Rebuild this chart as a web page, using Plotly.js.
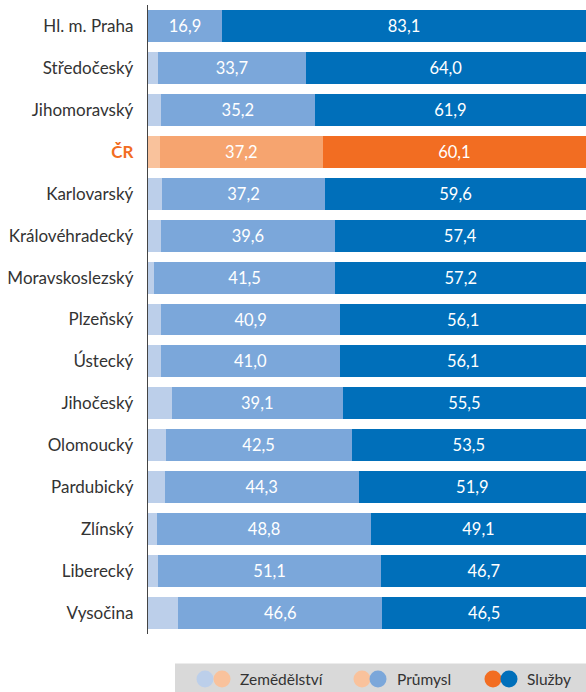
<!DOCTYPE html>
<html><head><meta charset="utf-8">
<script src="https://cdn.plot.ly/plotly-3.0.1.min.js"></script>
<style>html,body{margin:0;padding:0;background:#fff}#chart{width:586px;height:692px}</style>
</head><body><div id="chart"></div>
<script>
const regions = ["Hl. m. Praha","Středočeský","Jihomoravský","ČR","Karlovarský","Královéhradecký","Moravskoslezský","Plzeňský","Ústecký","Jihočeský","Olomoucký","Pardubický","Zlínský","Liberecký","Vysočina"];
const zemedelstvi = [0.0, 2.3, 2.9, 2.7, 3.2, 3.0, 1.3, 3.0, 2.9, 5.4, 4.0, 3.8, 2.1, 2.2, 6.9];
const prumysl = [16.9, 33.7, 35.2, 37.2, 37.2, 39.6, 41.5, 40.9, 41.0, 39.1, 42.5, 44.3, 48.8, 51.1, 46.6];
const sluzby = [83.1, 64.0, 61.9, 60.1, 59.6, 57.4, 57.2, 56.1, 56.1, 55.5, 53.5, 51.9, 49.1, 46.7, 46.5];
const legendNames = ["Zemědělství","Průmysl","Služby"];

const blue = ["#bccfea","#7ba7da","#006fba"];
const orange = ["#f9c29c","#f6a46f","#f26d22"];
const crIdx = regions.indexOf("ČR");
const colorsFor = k => regions.map((r,i)=> i===crIdx ? orange[k] : blue[k]);
const fmt = v => v.toFixed(1).replace('.', ',');

const series = [zemedelstvi, prumysl, sluzby];
const traces = series.map((vals,k)=>({
  type:'bar', orientation:'h', y:regions, x:vals, name:legendNames[k],
  marker:{color:colorsFor(k), line:{width:0}},
  text: k===0 ? vals.map(()=> '') : vals.map(fmt),
  textposition: k===0 ? 'none' : 'inside', insidetextanchor:'middle',
  textfont:{color:'#ffffff', size:16.5, family:'Lato, sans-serif'},
  hoverinfo:'skip', showlegend:false
}));

const ticktext = regions.map((r,i)=> i===crIdx ? '<b><span style="color:#f26d22">ČR</span></b>' : r);

const shapes = [{type:'rect', xref:'paper', yref:'paper', x0:(175-148)/438, x1:1, y0:-0.095, y1:-0.047, fillcolor:'#d9d9d9', line:{width:0}, layer:'below'}];
const legItems = [
  {c:[blue[0],orange[0]], x:[205,222], t:238},
  {c:[orange[0],blue[1]], x:[362,378], t:395},
  {c:[orange[2],blue[2]], x:[493,509], t:525}
];
const annotations = [];
const pxX = px => (px-148)/438;
const plotTop=5, plotBot=634;
const pxY = py => (plotBot-py)/(plotBot-plotTop);
legItems.forEach((it,k)=>{
  it.x.forEach((cx,j)=>{
    shapes.push({type:'circle', xref:'paper', yref:'paper', x0:pxX(cx-8.5), x1:pxX(cx+8.5), y0:pxY(679+8.5), y1:pxY(679-8.5), fillcolor:it.c[j], line:{width:0}});
  });
  annotations.push({xref:'paper', yref:'paper', x:pxX(it.t), y:pxY(679), xanchor:'left', yanchor:'middle', text:legendNames[k], showarrow:false, font:{size:15.5, color:'#333333', family:'Lato, sans-serif'}});
});

const layout = {
  width:586, height:692, barmode:'stack', bargap:0.238,
  margin:{l:148, r:0, t:plotTop, b:692-plotBot},
  paper_bgcolor:'#ffffff', plot_bgcolor:'#ffffff',
  font:{family:'Lato, sans-serif', size:17, color:'#333333'},
  xaxis:{range:[0,100], showgrid:false, zeroline:false, showticklabels:false, showline:false, fixedrange:true},
  yaxis:{autorange:'reversed', tickvals:regions, ticktext:ticktext, showline:true, linecolor:'#444444', linewidth:1.2, ticks:'', ticklabelstandoff:10, showgrid:false, tickfont:{size:17, color:'#333333'}},
  shapes:shapes, annotations:annotations, showlegend:false
};
Plotly.newPlot('chart', traces, layout, {displayModeBar:false, staticPlot:true});
</script></body></html>
